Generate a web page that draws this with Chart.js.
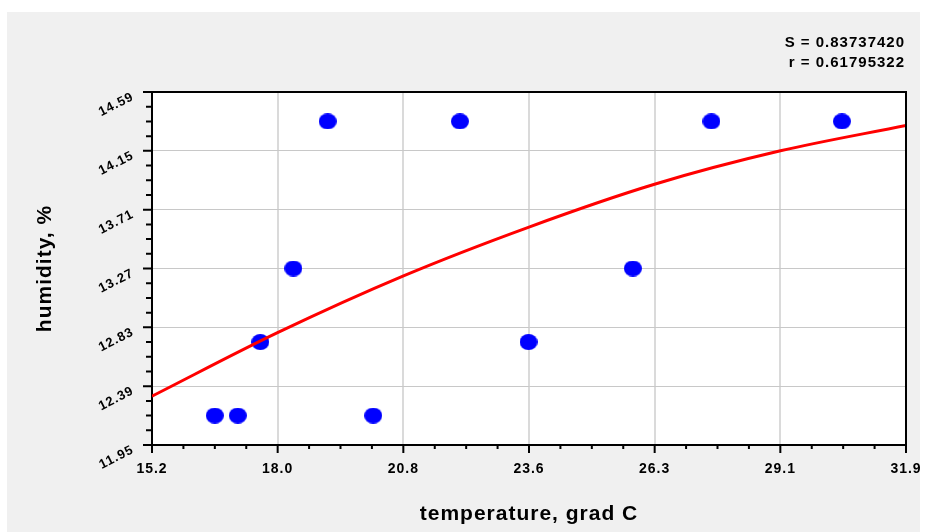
<!DOCTYPE html>
<html>
<head>
<meta charset="utf-8">
<script src="https://cdn.jsdelivr.net/npm/chart.js@4/dist/chart.umd.min.js"></script>
<style>
  html, body { margin: 0; padding: 0; background: #ffffff; }
  #wrap { width: 925px; height: 532px; }
</style>
</head>
<body>
<div id="wrap"><canvas id="c" width="925" height="532"></canvas></div>
<script>
// ---- data ----
const temperature = [16.59, 17.10, 17.60, 18.33, 19.09, 20.10, 22.02, 23.54, 25.85, 27.59, 30.48];
const humidity    = [12.17, 12.17, 12.72, 13.27, 14.37, 12.17, 14.37, 12.72, 13.27, 14.37, 14.37];

const fitTemperature = [15.2, 17.98, 20.77, 23.55, 26.33, 29.12, 31.9];
const fitHumidity    = [12.315, 12.79, 13.215, 13.58, 13.90, 14.15, 14.34];

const xTickLabels = ['15.2', '18.0', '20.8', '23.6', '26.3', '29.1', '31.9'];
const yTickLabels = ['11.95', '12.39', '12.83', '13.27', '13.71', '14.15', '14.59'];

const xMin = 15.2, xMax = 31.9;
const yMin = 11.95, yMax = 14.59;
const statLines = ['S = 0.83737420', 'r = 0.61795322'];

const xTitle = 'temperature, grad C';
const yTitle = 'humidity, %';
// ----------------------------------------------

const FONT = "'Liberation Sans', Arial, sans-serif";
const MINOR = 4;

function makeTicks(min, max, labels) {
  const n = (labels.length - 1) * MINOR;
  const out = [];
  for (let i = 0; i <= n; i++) out.push({ value: min + (max - min) * i / n });
  return out;
}

// ellipse marker
const marker = document.createElement('canvas');
marker.width = 18; marker.height = 16;
(function () {
  const m = marker.getContext('2d');
  m.fillStyle = '#0000ff';
  m.beginPath();
  m.ellipse(9, 8, 9, 8, 0, 0, Math.PI * 2);
  m.fill();
})();

const decor = {
  id: 'decor',
  beforeDraw(chart) {
    const ctx = chart.ctx;
    const a = chart.chartArea;
    ctx.save();
    ctx.fillStyle = '#ffffff';
    ctx.fillRect(0, 0, chart.width, chart.height);
    ctx.fillStyle = '#f0f0f0';
    ctx.fillRect(7, 12, 913, 520);
    ctx.fillStyle = '#ffffff';
    ctx.fillRect(a.left, a.top, a.right - a.left, a.bottom - a.top);
    ctx.restore();
    ctx.letterSpacing = '1px';
  },
  afterDraw(chart) {
    const ctx = chart.ctx;
    const a = chart.chartArea;
    const xs = chart.scales.x, ys = chart.scales.y;
    ctx.save();
    ctx.strokeStyle = '#000000';
    ctx.lineWidth = 2;
    ctx.beginPath();
    ctx.moveTo(a.left, a.top); ctx.lineTo(a.right, a.top); ctx.lineTo(a.right, a.bottom);
    ctx.stroke();
    // ticks
    ctx.beginPath();
    xs.ticks.forEach((t, i) => {
      const px = xs.getPixelForValue(t.value);
      const len = i % MINOR === 0 ? 8 : 4;
      ctx.moveTo(px, a.bottom); ctx.lineTo(px, a.bottom + len);
    });
    ys.ticks.forEach((t, i) => {
      const py = ys.getPixelForValue(t.value);
      const len = i % MINOR === 0 ? 9 : 6;
      ctx.moveTo(a.left, py); ctx.lineTo(a.left - len, py);
    });
    ctx.stroke();
    // statistics text
    ctx.fillStyle = '#000000';
    ctx.font = 'bold 15px ' + FONT;
    ctx.letterSpacing = '1px';
    ctx.textAlign = 'right';
    ctx.textBaseline = 'alphabetic';
    ctx.fillText(statLines[0], 905, 47);
    ctx.fillText(statLines[1], 905, 67);
    ctx.restore();
  }
};

new Chart(document.getElementById('c'), {
  type: 'scatter',
  data: {
    datasets: [
      {
        type: 'line',
        data: fitTemperature.map((x, i) => ({ x, y: fitHumidity[i] })),
        borderColor: '#ff0000',
        borderWidth: 3,
        pointRadius: 0,
        cubicInterpolationMode: 'monotone',
        fill: false,
        order: 0
      },
      {
        data: temperature.map((x, i) => ({ x, y: humidity[i] })),
        pointStyle: marker,
        pointRadius: 9,
        backgroundColor: '#0000ff',
        borderWidth: 0,
        order: 1
      }
    ]
  },
  plugins: [decor],
  options: {
    responsive: false,
    animation: false,
    devicePixelRatio: 1,
    layout: { padding: { top: 92, right: 19, bottom: 0, left: 0 } },
    plugins: { legend: { display: false }, tooltip: { enabled: false } },
    scales: {
      x: {
        type: 'linear',
        min: xMin, max: xMax,
        afterBuildTicks: s => { s.ticks = makeTicks(xMin, xMax, xTickLabels); },
        afterFit: s => { s.height = 87; },
        border: { display: true, color: '#000000', width: 2 },
        grid: {
          color: c => (c.index % MINOR === 0 ? '#dadada' : 'rgba(0,0,0,0)'),
          lineWidth: 2,
          drawTicks: true,
          tickLength: 12,
          tickColor: 'rgba(0,0,0,0)'
        },
        ticks: {
          autoSkip: false,
          maxRotation: 0, minRotation: 0,
          padding: 4,
          color: '#000000',
          font: { family: FONT, size: 14, weight: 'bold' },
          callback: (v, i) => (i % MINOR === 0 ? xTickLabels[i / MINOR] : '')
        },
        title: {
          display: true,
          text: xTitle,
          color: '#000000',
          font: { family: FONT, size: 21, weight: 'bold' },
          padding: { top: 0, bottom: 5 }
        }
      },
      y: {
        type: 'linear',
        min: yMin, max: yMax,
        afterBuildTicks: s => { s.ticks = makeTicks(yMin, yMax, yTickLabels); },
        afterFit: s => { s.width = 152; },
        border: { display: true, color: '#000000', width: 2 },
        grid: {
          color: c => (c.index % MINOR === 0 ? '#c8c8c8' : 'rgba(0,0,0,0)'),
          lineWidth: 1,
          drawTicks: true,
          tickLength: 9,
          tickColor: 'rgba(0,0,0,0)'
        },
        ticks: {
          autoSkip: false,
          minRotation: 27, maxRotation: 27,
          padding: 10,
          labelOffset: 4,
          color: '#000000',
          font: { family: FONT, size: 13, weight: 'bold' },
          callback: (v, i) => (i % MINOR === 0 ? yTickLabels[i / MINOR] : '')
        },
        title: {
          display: true,
          text: yTitle,
          color: '#000000',
          font: { family: FONT, size: 21, weight: 'bold' },
          padding: { top: 33, bottom: 0 }
        }
      }
    }
  }
});
</script>
</body>
</html>
